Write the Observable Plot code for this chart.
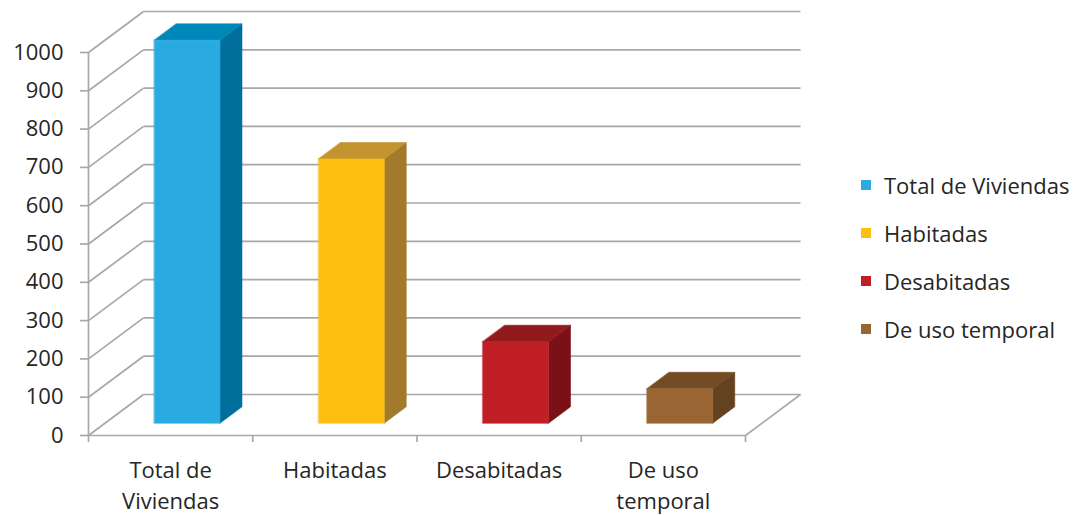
<!DOCTYPE html>
<html><head><meta charset="utf-8">
<script src="https://cdn.jsdelivr.net/npm/d3@7"></script>
<script src="https://cdn.jsdelivr.net/npm/@observablehq/plot@0.6"></script>
<style>
body{margin:0;background:#fff;}
#wrap{position:relative;width:1083px;height:515px;font-family:"Open Sans", sans-serif;}
#legend{position:absolute;left:861px;top:0;}
.item{position:absolute;left:0;height:24px;display:flex;align-items:center;white-space:nowrap;font-size:22px;color:#262626;}
.sw{width:10px;height:10px;margin-right:13px;flex:none;}
</style></head><body><div id="wrap"><div id="legend"></div></div>
<script>
const categories = ["Total de Viviendas", "Habitadas", "Desabitadas", "De uso temporal"];
const axisLabels = ["Total de\nViviendas", "Habitadas", "Desabitadas", "De uso\ntemporal"];
const values = [1000, 690, 213, 90];
const frontColors = ["#29abe2", "#fdbf12", "#c01f26", "#996633"];
const sideColors = ["#006f9b", "#a27a2b", "#7a1116", "#62421f"];
const topColors = ["#0087b9", "#c2932e", "#911a1d", "#744c24"];
const yTicks = [0, 100, 200, 300, 400, 500, 600, 700, 800, 900, 1000];
const xTicks = [0, 1, 2, 3, 4];
const legendRows = [185, 233, 281, 329];

// oblique projection: depth d (0 = front, 1 = back wall) shifts in data units
const DEPTH_X = 0.335, DEPTH_Y = 107;
const P = (x, v, d) => ({x: x + DEPTH_X * d, y: v + DEPTH_Y * d});

const faces = [];
values.forEach((v, i) => {
  const x0 = i + 0.3, x1 = i + 0.7, d0 = 0.3, d1 = 0.7;
  const add = (name, color, pts) => pts.forEach(([x, vv, d]) => faces.push({face: `${i}-${name}`, color, ...P(x, vv, d)}));
  add("side", sideColors[i], [[x1, 0, d0], [x1, 0, d1], [x1, v, d1], [x1, v, d0]]);
  add("top", topColors[i], [[x0, v, d0], [x1, v, d0], [x1, v, d1], [x0, v, d1]]);
  add("front", frontColors[i], [[x0, 0, d0], [x1, 0, d0], [x1, v, d0], [x0, v, d0]]);
});

const grid = "#a8a8a8";
const gw = 1.7;

const chart = Plot.plot({
  width: 1083,
  height: 515,
  marginLeft: 88,
  marginRight: 338,
  marginTop: 52,
  marginBottom: 80,
  style: {fontFamily: "'Open Sans', sans-serif", background: "transparent", overflow: "visible"},
  x: {domain: [0, 4], axis: null},
  y: {domain: [0, 1000], axis: null},
  marks: [
    // back wall
    Plot.link(yTicks, {x1: v => P(0, v, 1).x, y1: v => P(0, v, 1).y, x2: v => P(4, v, 1).x, y2: v => P(4, v, 1).y, stroke: grid, strokeWidth: gw}),
    // left wall
    Plot.link(yTicks, {x1: v => P(0, v, 0).x, y1: v => P(0, v, 0).y, x2: v => P(0, v, 1).x, y2: v => P(0, v, 1).y, stroke: grid, strokeWidth: gw}),
    // floor right edge
    Plot.link([4], {x1: x => P(x, 0, 0).x, y1: x => P(x, 0, 0).y, x2: x => P(x, 0, 1).x, y2: x => P(x, 0, 1).y, stroke: grid, strokeWidth: gw}),
    // floor front edge & front vertical axis
    Plot.ruleY([0], {stroke: grid, strokeWidth: gw}),
    Plot.ruleX([0], {stroke: grid, strokeWidth: gw}),
    Plot.axisY({ticks: yTicks, label: null, tickSize: 8, tickPadding: 17, fontSize: 22, stroke: grid, strokeWidth: gw, fill: "#262626", tickFormat: d => String(d)}),
    Plot.axisX({ticks: xTicks, label: null, tickSize: 7, stroke: grid, strokeWidth: gw, fill: "none", anchor: "bottom"}),
    // bars
    Plot.line(faces, {x: "x", y: "y", z: "face", fill: "color", stroke: "color", strokeWidth: 0.6, curve: "linear-closed"}),
    // category labels
    Plot.text(axisLabels, {x: (d, i) => i + 0.5, y: 0, text: d => d, lineAnchor: "top", dy: 20, lineHeight: 1.42, fontSize: 22, fill: "#262626"})
  ]
});
const wrap = document.getElementById("wrap");
wrap.insertBefore(chart, wrap.firstChild);

const legend = document.getElementById("legend");
categories.forEach((c, i) => {
  const row = document.createElement("div");
  row.className = "item";
  row.style.top = (legendRows[i] - 12) + "px";
  const sw = document.createElement("span");
  sw.className = "sw";
  sw.style.background = frontColors[i];
  const t = document.createElement("span");
  t.textContent = c;
  row.appendChild(sw); row.appendChild(t);
  legend.appendChild(row);
});
</script></body></html>
